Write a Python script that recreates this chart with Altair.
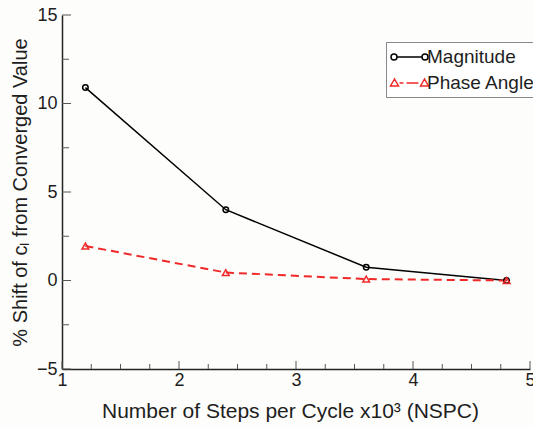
import altair as alt
import pandas as pd

# ---- data ----
nspc = [1.2, 2.4, 3.6, 4.8]
magnitude = [10.9, 4.0, 0.75, 0.0]
phase_angle = [1.95, 0.45, 0.08, 0.0]
series_names = ["Magnitude", "Phase Angle"]
x_major = [1, 2, 3, 4, 5]
x_minor = [1.25, 1.5, 1.75, 2.25, 2.5, 2.75, 3.25, 3.5, 3.75, 4.25, 4.5, 4.75]
y_major = [-5, 0, 5, 10, 15]
y_minor = [-2.5, 2.5, 7.5, 12.5]

df = pd.DataFrame({
    "nspc": nspc * 2,
    "value": magnitude + phase_angle,
    "series": [series_names[0]] * 4 + [series_names[1]] * 4,
})

W, H = 468, 354
FONT = "Liberation Sans"
RED = "#f02828"
TXT = "#1e1e1e"

# legend symbols (custom paths: line + markers)
path_mag = ("M-1.25,0L1.25,0 "
            "M-1.25,0A0.3,0.3 0 1,0 -1.85,0A0.3,0.3 0 1,0 -1.25,0 "
            "M1.85,0A0.3,0.3 0 1,0 1.25,0A0.3,0.3 0 1,0 1.85,0")
path_phase = ("M-1.5,-0.4L-1.9,0.3L-1.1,0.3Z "
              "M1.5,-0.4L1.1,0.3L1.9,0.3Z "
              "M-1.0,0L-0.6,0 M-0.3,0L0.9,0")

x_axis = alt.Axis(
    values=x_major, format="~g", title="Number of Steps per Cycle x10³ (NSPC)",
    ticks=False, labelPadding=2, labelFontSize=18, labelFont=FONT,
    labelFlush=False, labelOverlap=False, labelColor=TXT,
    titleFontSize=21, titleFont=FONT, titleFontWeight="normal", titleColor=TXT,
    titlePadding=11, titleX=228, grid=False,
    domainColor="#222", domainWidth=1.5,
)
y_axis = alt.Axis(
    values=y_major, format="~g", title="% Shift of cₗ from Converged Value",
    ticks=False, labelPadding=5, labelFontSize=18, labelFont=FONT,
    labelFlush=False, labelOverlap=False, labelColor=TXT,
    titleFontSize=20, titleFont=FONT, titleFontWeight="normal", titleColor=TXT,
    titlePadding=6, grid=False,
    domainColor="#222", domainWidth=1.5,
)

xs = alt.Scale(domain=[1, 5], nice=False, zero=False)
ys = alt.Scale(domain=[-5, 15], nice=False, zero=False)

base = alt.Chart(df)

mag_line = base.transform_filter(alt.datum.series == "Magnitude").mark_line(
    color="black", strokeWidth=1.5
).encode(x=alt.X("nspc:Q", scale=xs, axis=x_axis), y=alt.Y("value:Q", scale=ys, axis=y_axis))

ph_line = base.transform_filter(alt.datum.series == "Phase Angle").mark_line(
    color=RED, strokeWidth=2, strokeDash=[8, 5]
).encode(x=alt.X("nspc:Q", scale=xs), y=alt.Y("value:Q", scale=ys))

mag_pts = base.transform_filter(alt.datum.series == "Magnitude").mark_point(
    shape="circle", filled=False, color="black", size=30, strokeWidth=1.5, opacity=1
).encode(x=alt.X("nspc:Q", scale=xs), y=alt.Y("value:Q", scale=ys))

ph_pts = base.transform_filter(alt.datum.series == "Phase Angle").mark_point(
    shape="triangle-up", filled=False, color=RED, size=45, strokeWidth=1.5, opacity=1
).encode(x=alt.X("nspc:Q", scale=xs), y=alt.Y("value:Q", scale=ys))

# inward ticks
TICK = "#555"
xmaj = alt.Chart(pd.DataFrame({"t": x_major})).mark_rule(color=TICK, strokeWidth=1).encode(
    x=alt.X("t:Q", scale=xs), y=alt.value(H), y2=alt.value(H - 8))
xmin = alt.Chart(pd.DataFrame({"t": x_minor})).mark_rule(color=TICK, strokeWidth=1).encode(
    x=alt.X("t:Q", scale=xs), y=alt.value(H), y2=alt.value(H - 5))
ymaj = alt.Chart(pd.DataFrame({"t": y_major})).mark_rule(color=TICK, strokeWidth=1).encode(
    y=alt.Y("t:Q", scale=ys), x=alt.value(0), x2=alt.value(9))
ymin = alt.Chart(pd.DataFrame({"t": y_minor})).mark_rule(color=TICK, strokeWidth=1).encode(
    y=alt.Y("t:Q", scale=ys), x=alt.value(0), x2=alt.value(7))

leg = alt.Legend(
    title=None, orient="none", legendX=386 - 62, legendY=42 - 15,
    labelFont=FONT, labelFontSize=19, labelColor=TXT,
    symbolSize=400, symbolStrokeWidth=1.5, symbolOpacity=1,
    symbolOffset=8.5, labelOffset=6.5, rowPadding=5, padding=4,
    strokeColor="#888", fillColor="white",
)

legend_layer = base.transform_filter("false").mark_point(filled=False, opacity=1).encode(
    x=alt.X("nspc:Q", scale=xs), y=alt.Y("value:Q", scale=ys),
    color=alt.Color("series:N", scale=alt.Scale(domain=series_names, range=["black", RED]), legend=leg),
    shape=alt.Shape("series:N", scale=alt.Scale(domain=series_names, range=[path_mag, path_phase]), legend=leg),
)

chart = alt.layer(xmaj, xmin, ymaj, ymin, mag_line, ph_line, mag_pts, ph_pts, legend_layer).properties(
    width=W, height=H,
    autosize=alt.AutoSizeParams(type="none"),
    padding={"left": 62, "top": 15, "right": 3, "bottom": 58},
    background="#fdfdfb",
).configure_view(stroke=None)

chart.save("out.html", embed_options={"renderer": "svg", "actions": False})
